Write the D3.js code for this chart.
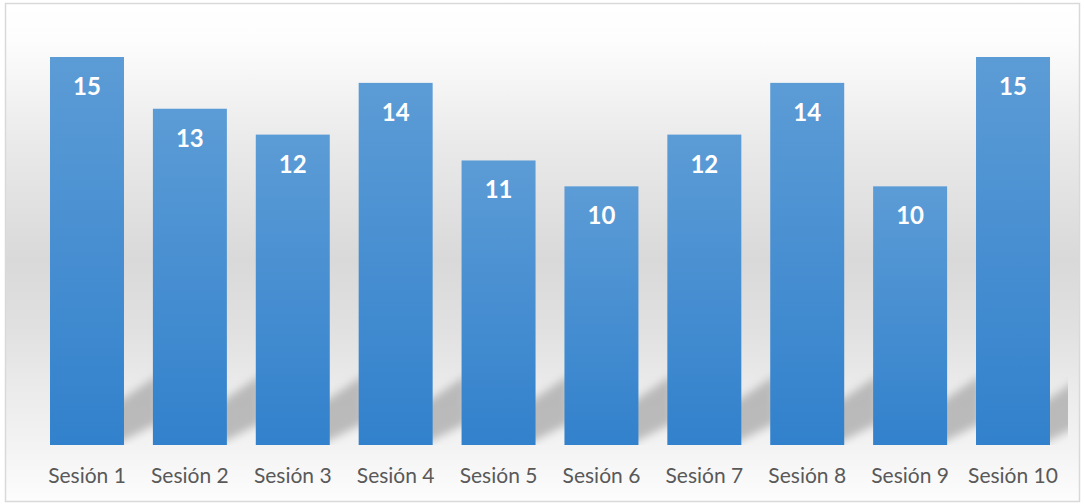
<!DOCTYPE html>
<html><head><meta charset="utf-8">
<script src="https://cdn.jsdelivr.net/npm/d3@7"></script>
<style>html,body{margin:0;padding:0;background:#fff;}svg{display:block;}</style>
</head><body>
<script>
const categories = ["Sesión 1","Sesión 2","Sesión 3","Sesión 4","Sesión 5","Sesión 6","Sesión 7","Sesión 8","Sesión 9","Sesión 10"];
const values = [15,13,12,14,11,10,12,14,10,15];

const W = 1085, H = 504;
const svg = d3.select("body").append("svg").attr("width", W).attr("height", H);
const defs = svg.append("defs");

const bg = defs.append("linearGradient").attr("id","bg").attr("x1",0).attr("y1",0).attr("x2",0).attr("y2",1);
[[0,"#ffffff"],[0.07,"#fdfdfd"],[0.29,"#e9e9e9"],[0.515,"#d9d9d9"],[0.66,"#e1e1e1"],[0.76,"#eaeaea"],[0.89,"#f3f3f3"],[1,"#fdfdfd"]]
  .forEach(([o,c]) => bg.append("stop").attr("offset",o).attr("stop-color",c));

const bar = defs.append("linearGradient").attr("id","bar").attr("x1",0).attr("y1",0).attr("x2",0).attr("y2",1);
bar.append("stop").attr("offset",0).attr("stop-color","#5c9cd6");
bar.append("stop").attr("offset",1).attr("stop-color","#3281cc");

defs.append("filter").attr("id","blur").attr("x","-50%").attr("y","-50%").attr("width","200%").attr("height","200%")
  .append("feGaussianBlur").attr("stdDeviation",4);
defs.append("clipPath").attr("id","plotclip").append("rect")
  .attr("x",6).attr("y",4).attr("width",1062).attr("height",441);

svg.append("rect").attr("x",5.5).attr("y",3.5).attr("width",1074).attr("height",498)
  .attr("fill","url(#bg)").attr("stroke","#d9d9d9").attr("stroke-width",1.5);

const x = d3.scaleBand().domain(categories).range([35.55, 1064.45]).paddingInner(0.281).paddingOuter(0.1405);
const y = d3.scaleLinear().domain([0,15]).range([445,57]);

// shadows
const gS = svg.append("g").attr("clip-path","url(#plotclip)").append("g").attr("filter","url(#blur)");
categories.forEach((c,i) => {
  const xr = x(c) + x.bandwidth(), yb = y(0);
  gS.append("path")
    .attr("d", `M${xr-10},${yb} L${xr-10},${yb-40} L${xr+34},${yb-70} L${xr+34},${yb-22} Z`)
    .attr("fill","#a8a8a8").attr("opacity",0.75);
});

svg.append("g").selectAll("rect").data(values).join("rect")
  .attr("x",(d,i)=>x(categories[i])).attr("y",d=>y(d))
  .attr("width",x.bandwidth()).attr("height",d=>y(0)-y(d))
  .attr("fill","url(#bar)");

svg.append("g").selectAll("text").data(values).join("text")
  .attr("x",(d,i)=>x(categories[i])+x.bandwidth()/2).attr("y",d=>y(d)+38)
  .attr("text-anchor","middle").attr("fill","#ffffff")
  .attr("font-family","Lato, 'Open Sans', sans-serif").attr("font-weight","bold").attr("font-size",24)
  .text(d=>d);

const xAxis = d3.axisBottom(x).tickSize(0).tickPadding(0);
const ax = svg.append("g").attr("transform",`translate(0,${y(0)})`).call(xAxis);
ax.select(".domain").remove();
ax.selectAll("text").attr("y",38).attr("dy",0).attr("fill","#595959")
  .attr("font-family","Lato, 'Open Sans', sans-serif").attr("font-size",21);
</script>
</body></html>
